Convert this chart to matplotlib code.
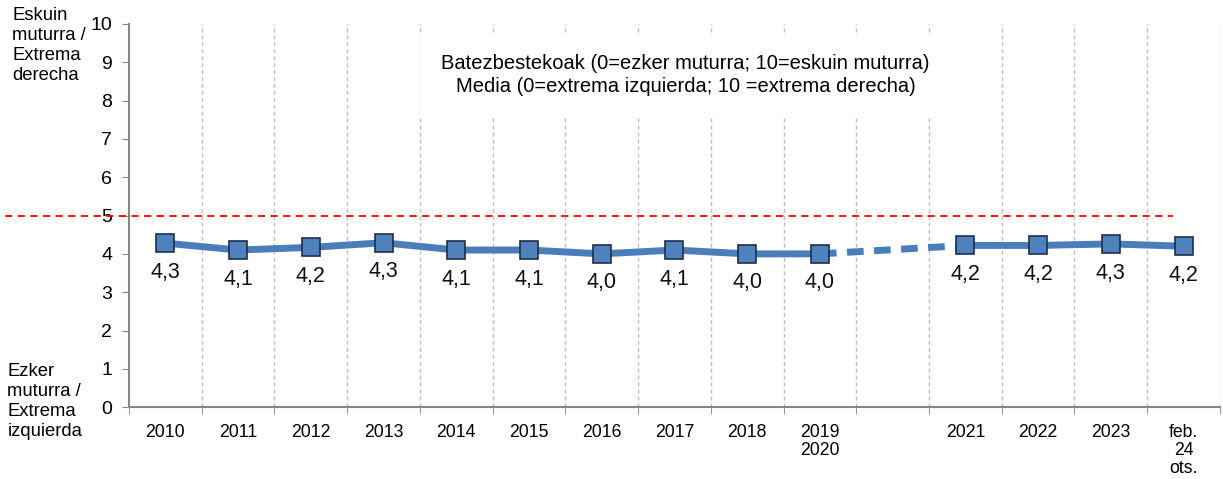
import matplotlib.pyplot as plt
import numpy as np

categories = ['2010', '2011', '2012', '2013', '2014', '2015', '2016', '2017',
              '2018', '2019\n2020', '', '2021', '2022', '2023', 'feb.\n24\nots.']
values = [4.28, 4.10, 4.17, 4.29, 4.10, 4.10, 4.00, 4.10, 4.00, 4.00,
          np.nan, 4.22, 4.22, 4.26, 4.20]
labels = ['4,3', '4,1', '4,2', '4,3', '4,1', '4,1', '4,0', '4,1', '4,0', '4,0',
          '', '4,2', '4,2', '4,3', '4,2']

plt.rcParams['font.family'] = ['Liberation Sans', 'DejaVu Sans']

fig = plt.figure(figsize=(12.23, 4.79), dpi=100)
ax = fig.add_axes([0.1055, 0.150, 0.892, 0.800])

x = np.arange(len(categories))
v = np.array(values)
blue = '#4a7ebb'

# solid segments
ax.plot(x[:10], v[:10], color=blue, lw=5, solid_capstyle='round', zorder=3)
ax.plot(x[11:], v[11:], color=blue, lw=5, solid_capstyle='round', zorder=3)
# dashed bridge over the gap
ax.plot([x[9], x[11]], [v[9], v[11]], color=blue, lw=5, ls=(0, (2.4, 1.5)), zorder=3)
ax.plot(x, v, ls='none', marker='s', ms=13.5, mfc='#4f81bd', mec='#1f2f4a', mew=1.2, zorder=4)

for xi, vi, lab in zip(x, v, labels):
    if lab:
        ax.text(xi, vi - 0.76, lab, ha='center', va='center', fontsize=15.5, color='#111111')

# reference line at 5
ax.plot([-2.2, 13.85], [5, 5], color='#ff0000', lw=1.3, ls=(0, (4, 3)), clip_on=False, zorder=2)

# category boundaries
for b in np.arange(0.5, len(categories), 1):
    ax.axvline(b, color='#bfbfbf', lw=1, ls=(0, (3, 2)), zorder=1)

ax.set_xlim(-0.5, len(categories) - 0.5)
ax.set_ylim(0, 10)
ax.set_yticks(range(0, 11))
ax.set_xticks(x)
ax.set_xticklabels(categories, fontsize=12.7, va='top', linespacing=1.08)
ax.set_xticks(np.arange(-0.5, len(categories), 1), minor=True)
ax.tick_params(axis='x', which='major', length=0, pad=12)
ax.tick_params(axis='x', which='minor', length=5, color='#868686', direction='out')
ax.tick_params(axis='y', length=5, color='#868686', labelsize=14, pad=7)

for s in ['top', 'right']:
    ax.spines[s].set_visible(False)
for s in ['left', 'bottom']:
    ax.spines[s].set_color('#868686')
    ax.spines[s].set_linewidth(1.5)

ax.text(7.15, 8.67, 'Batezbestekoak (0=ezker muturra; 10=eskuin muturra)\n'
        'Media (0=extrema izquierda; 10 =extrema derecha)',
        ha='center', va='center', fontsize=14.5, linespacing=1.25,
        bbox=dict(facecolor='white', edgecolor='none', pad=15), zorder=5)

fig.text(0.010, 0.986, 'Eskuin\nmuturra /\nExtrema\nderecha', ha='left', va='top',
         fontsize=13.3, linespacing=1.25)
fig.text(0.006, 0.243, 'Ezker\nmuturra /\nExtrema\nizquierda', ha='left', va='top',
         fontsize=13.3, linespacing=1.25)

fig.savefig('out.png', dpi=100)
